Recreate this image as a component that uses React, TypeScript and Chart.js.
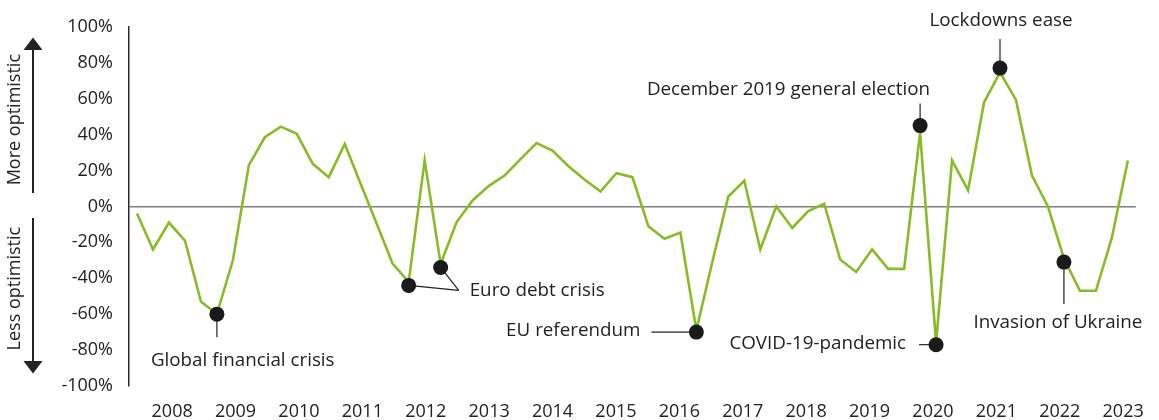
import React, { useEffect, useRef } from 'react';
import { Chart, registerables } from 'chart.js';

Chart.register(...registerables);

// ---------- data ----------
// Quarterly net balance of CFOs feeling more optimistic (2007 Q3 .. 2023 Q1)
const VALUES: number[] = [
  -4, -24, -9, -19, -53, -60, -30, 23, 38.5, 44.4,
  40.4, 23.7, 16.3, 34.8, 12.5, -9.7, -32, -42, 25.6, -32,
  -8.7, 3.3, 11.3, 17.2, 26.3, 35.2, 31.1, 22.4, 15, 8.3,
  18.5, 16.3, -11.1, -18, -14.6, -69, -31, 5.5, 14.3, -24,
  0, -12, -2.6, 1.5, -29.6, -36.5, -23.9, -34.8, -34.8, 41,
  -76, 25.6, 8.9, 57.9, 74.6, 59.3, 17.2, 0, -29, -47,
  -47, -17.4, 25.6,
];

const YEARS: string[] = [
  '2008', '2009', '2010', '2011', '2012', '2013', '2014', '2015',
  '2016', '2017', '2018', '2019', '2020', '2021', '2022', '2023',
];
// year label positions, in quarter-index units
const YEAR_TICK_FIRST = 2.2;
const YEAR_TICK_STEP = 3.967;

const Y_TICKS_MIN = -100;
const Y_TICKS_MAX = 100;
const Y_TICKS_STEP = 20;

const EVENT_NAMES: string[] = [
  'Global financial crisis',
  'Euro debt crisis',
  'EU referendum',
  'December 2019 general election',
  'COVID-19-pandemic',
  'Lockdowns ease',
  'Invasion of Ukraine',
];
// marker dots: quarter index, value, event they belong to
const DOT_INDEX: number[] = [5, 17, 19, 35, 49, 50, 54, 58];
const DOT_VALUE: number[] = [-60, -44, -34, -70, 45, -77, 77, -31];
const DOT_EVENT: number[] = [0, 1, 1, 2, 3, 4, 5, 6];

const SIDE_TITLES = { up: 'More optimistic', down: 'Less optimistic' };

// ---------- styles / layout (pixel offsets relative to a marker) ----------
const GREEN = '#86BC25';
const INK = '#222222';
const FONT_FAMILY = '"Open Sans", sans-serif';
const FONT_SIZE = 18;
const NOTE_FONT_SIZE = 18.8;

type LabelLayout = {
  leader: [number, number][]; // polyline relative to first dot of the event
  joinFromOthers?: boolean; // other dots of the event link to the last leader point
  text: [number, number];
  align: CanvasTextAlign;
};
const LABEL_LAYOUT: LabelLayout[] = [
  { leader: [[0, 0], [0, 23]], text: [-66, 46], align: 'left' },
  { leader: [[0, 0], [50, 5]], joinFromOthers: true, text: [61, 5], align: 'left' },
  { leader: [[0, 0], [-45, 0]], text: [-56, -1], align: 'right' },
  { leader: [[0, 0], [0, -22]], text: [10, -36], align: 'right' },
  { leader: [[0, 0], [-17, 0]], text: [-30, -1], align: 'right' },
  { leader: [[0, 0], [0, -29]], text: [1, -47], align: 'center' },
  { leader: [[0, 0], [0, 42]], text: [-6, 61], align: 'center' },
];

const annotationPlugin = {
  id: 'eventAnnotations',
  beforeDatasetsDraw(chart: any) {
    const { ctx, scales } = chart;
    const xs = scales.x;
    const ys = scales.y;
    ctx.save();
    ctx.strokeStyle = INK;
    ctx.lineWidth = 1.2;
    EVENT_NAMES.forEach((_, e) => {
      const dots = DOT_INDEX.map((_, i) => i).filter((i) => DOT_EVENT[i] === e);
      if (!dots.length) return;
      const d0 = dots[0];
      const px = xs.getPixelForValue(DOT_INDEX[d0]);
      const py = ys.getPixelForValue(DOT_VALUE[d0]);
      const lay = LABEL_LAYOUT[e];
      ctx.beginPath();
      lay.leader.forEach(([dx, dy], k) => {
        if (k === 0) ctx.moveTo(px + dx, py + dy);
        else ctx.lineTo(px + dx, py + dy);
      });
      ctx.stroke();
      if (lay.joinFromOthers) {
        const [lx, ly] = lay.leader[lay.leader.length - 1];
        dots.slice(1).forEach((d) => {
          ctx.beginPath();
          ctx.moveTo(xs.getPixelForValue(DOT_INDEX[d]), ys.getPixelForValue(DOT_VALUE[d]));
          ctx.lineTo(px + lx, py + ly);
          ctx.stroke();
        });
      }
    });
    ctx.restore();
  },
  afterDatasetsDraw(chart: any) {
    const { ctx, scales, chartArea } = chart;
    const xs = scales.x;
    const ys = scales.y;
    ctx.save();
    ctx.fillStyle = INK;
    ctx.font = `${NOTE_FONT_SIZE}px ${FONT_FAMILY}`;
    ctx.textBaseline = 'middle';
    EVENT_NAMES.forEach((name, e) => {
      const d0 = DOT_EVENT.indexOf(e);
      const px = xs.getPixelForValue(DOT_INDEX[d0]);
      const py = ys.getPixelForValue(DOT_VALUE[d0]);
      const lay = LABEL_LAYOUT[e];
      ctx.textAlign = lay.align;
      ctx.fillText(name, px + lay.text[0], py + lay.text[1]);
    });

    // side arrows and titles
    ctx.font = `${FONT_SIZE}px ${FONT_FAMILY}`;
    const ax = chartArea.left - 96;
    ctx.strokeStyle = INK;
    ctx.lineWidth = 2;
    const arrow = (from: number, to: number) => {
      const y0 = ys.getPixelForValue(from);
      const y1 = ys.getPixelForValue(to);
      const dir = y1 < y0 ? 1 : -1; // 1 = pointing up
      const headH = 12.5;
      const headW = 9.5;
      ctx.beginPath();
      ctx.moveTo(ax, y0);
      ctx.lineTo(ax, y1 + dir * headH);
      ctx.stroke();
      ctx.beginPath();
      ctx.moveTo(ax, y1);
      ctx.lineTo(ax - headW, y1 + dir * headH);
      ctx.lineTo(ax + headW, y1 + dir * headH);
      ctx.closePath();
      ctx.fill();
    };
    arrow(7.4, 94);
    arrow(-6.5, -93);

    const sideTitle = (text: string, centerValue: number) => {
      ctx.save();
      ctx.translate(chartArea.left - 109, ys.getPixelForValue(centerValue));
      ctx.rotate(-Math.PI / 2);
      ctx.textAlign = 'center';
      ctx.textBaseline = 'alphabetic';
      ctx.fillText(text, 0, 0);
      ctx.restore();
    };
    sideTitle(SIDE_TITLES.up, 48.3);
    sideTitle(SIDE_TITLES.down, -45.8);
    ctx.restore();
  },
};

export default function App() {
  const canvasRef = useRef<HTMLCanvasElement | null>(null);

  useEffect(() => {
    const canvas = canvasRef.current;
    if (!canvas) return;
    const font = { family: FONT_FAMILY, size: FONT_SIZE };
    const chart = new Chart(canvas, {
      type: 'line',
      data: {
        datasets: [
          {
            label: 'events',
            data: DOT_INDEX.map((x, i) => ({ x, y: DOT_VALUE[i] })),
            showLine: false,
            pointRadius: 7.5,
            pointHoverRadius: 7.5,
            pointBackgroundColor: '#1a1a1a',
            pointBorderWidth: 0,
            order: 0,
          },
          {
            label: 'CFO optimism',
            data: VALUES.map((y, x) => ({ x, y })),
            borderColor: GREEN,
            borderWidth: 2.6,
            pointRadius: 0,
            tension: 0,
            fill: false,
            order: 1,
          },
        ],
      },
      options: {
        animation: false,
        responsive: false,
        maintainAspectRatio: false,
        events: [],
        layout: { padding: { top: 26, right: 22, bottom: 0, left: 0 } },
        plugins: {
          legend: { display: false },
          tooltip: { enabled: false },
          title: { display: false },
        },
        scales: {
          x: {
            type: 'linear',
            min: -0.5,
            max: VALUES.length - 0.5,
            grid: { display: false, drawTicks: false },
            border: { display: false },
            afterBuildTicks: (scale: any) => {
              scale.ticks = YEARS.map((_, i) => ({ value: YEAR_TICK_FIRST + i * YEAR_TICK_STEP }));
            },
            afterFit: (scale: any) => {
              scale.height = 34;
            },
            ticks: {
              autoSkip: false,
              maxRotation: 0,
              minRotation: 0,
              padding: 15,
              color: INK,
              font,
              callback: (_v: any, i: number) => YEARS[i],
            },
          },
          y: {
            min: Y_TICKS_MIN,
            max: Y_TICKS_MAX,
            afterFit: (scale: any) => {
              scale.width = 129;
            },
            ticks: {
              stepSize: Y_TICKS_STEP,
              padding: 16,
              color: INK,
              font,
              callback: (v: any) => `${v}%`,
            },
            grid: {
              drawTicks: false,
              lineWidth: 1.5,
              color: (ctx: any) => (ctx.tick && ctx.tick.value === 0 ? '#7f7f7f' : 'rgba(0,0,0,0)'),
            },
            border: { display: true, color: '#2b2b2b', width: 1.5 },
          },
        },
      },
      plugins: [annotationPlugin],
    } as any);
    return () => chart.destroy();
  }, []);

  return (
    <div style={{ position: 'fixed', left: 0, top: 0, width: 1159, height: 420, background: '#fff' }}>
      <canvas ref={canvasRef} width={1159} height={420} style={{ display: 'block' }} />
    </div>
  );
}
